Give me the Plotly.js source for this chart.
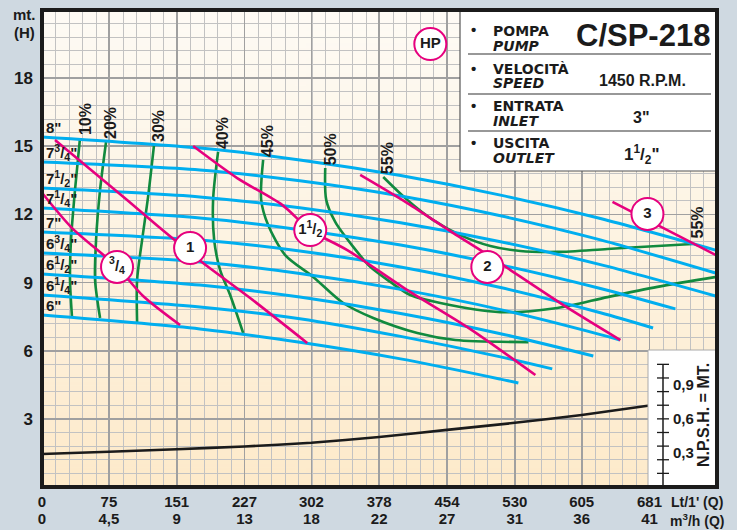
<!DOCTYPE html>
<html><head><meta charset="utf-8">
<script src="https://cdn.plot.ly/plotly-3.0.1.min.js"></script>
<style>html,body{margin:0;padding:0;background:#cfd9e1;}#chart{width:737px;height:530px;}</style>
</head><body><div id="chart"></div>
<script>
// ---------- axis tick values ----------
const ltTicks = [0, 75, 151, 227, 302, 378, 454, 530, 605, 681];
const m3Ticks = ['0', '4,5', '9', '13', '18', '22', '27', '31', '36', '41'];
const hTicks = [3, 6, 9, 12, 15, 18];

// ---------- impeller diameter head curves (Q in Lt/1', H in m) ----------
const diamLabels = ['8"', '7<sup>3</sup>/<sub>4</sub>"', '7<sup>1</sup>/<sub>2</sub>"', '7<sup>1</sup>/<sub>4</sub>"', '7"',
  '6<sup>3</sup>/<sub>4</sub>"', '6<sup>1</sup>/<sub>2</sub>"', '6<sup>1</sup>/<sub>4</sub>"', '6"'];
const q8 = [0, 177, 289, 402, 514, 626, 755];
const h8 = [15.41, 14.92, 14.40, 13.71, 12.85, 11.82, 10.43];
const q7_75 = [0, 177, 289, 402, 514, 626, 755];
const h7_75 = [14.31, 13.96, 13.48, 12.81, 11.94, 10.88, 9.42];
const q7_5 = [0, 177, 289, 402, 514, 626, 755];
const h7_5 = [13.16, 12.77, 12.29, 11.63, 10.80, 9.79, 8.41];
const q7_25 = [0, 177, 289, 402, 514, 626, 710];
const h7_25 = [12.28, 11.84, 11.33, 10.65, 9.78, 8.74, 7.84];
const q7 = [0, 177, 289, 402, 514, 626, 685];
const h7 = [11.23, 10.87, 10.39, 9.69, 8.78, 7.67, 7.00];
const q6_75 = [0, 177, 289, 402, 514, 626, 648];
const h6_75 = [10.30, 9.91, 9.40, 8.70, 7.81, 6.71, 6.47];
const q6_5 = [0, 177, 289, 402, 514, 618];
const h6_5 = [9.38, 8.89, 8.36, 7.64, 6.75, 5.77];
const q6_25 = [0, 177, 289, 402, 514, 572];
const h6_25 = [8.45, 7.92, 7.41, 6.63, 5.73, 5.20];
const q6 = [0, 177, 289, 402, 514, 534];
const h6 = [7.57, 6.96, 6.37, 5.64, 4.75, 4.58];

// ---------- efficiency curves ----------
const effLabels = ['10%', '20%', '30%', '40%', '45%', '50%', '55%'];
const e10q = [42.6, 37.0, 32.5, 31.4, 33.7];
const e10h = [15.36, 13.08, 10.87, 9.11, 7.44];
const e20q = [71.8, 65.1, 60.6, 59.5, 65.1];
const e20h = [15.19, 13.08, 10.87, 9.11, 7.44];
const e30q = [125.6, 118.9, 112.2, 106.6, 106.6];
const e30h = [15.06, 12.77, 10.87, 9.11, 7.26];
const e40q = [197.4, 191.8, 193.0, 199.7, 210.9, 225.5];
const e40h = [14.75, 12.64, 10.87, 9.55, 8.45, 6.78];
const e45q = [247.9, 245.7, 253.5, 272.6, 304.0, 337.7, 371.3, 420.7, 463.3, 545.2];
const e45h = [14.40, 12.64, 11.53, 10.21, 9.25, 8.10, 7.44, 6.78, 6.47, 6.38];
const e50q = [317.5, 318.6, 328.7, 348.9, 368.0, 390.4, 412.8, 446.5, 513.8, 577.7, 633.8, 689.9, 756];
const e50h = [14.04, 12.64, 11.67, 10.57, 9.69, 9.03, 8.45, 8.10, 7.70, 7.88, 8.36, 8.81, 9.25];
const e55q = [382.5, 409.5, 438.6, 468.9, 502.6, 536.2, 577.7, 633.8, 689.9, 729.2];
const e55h = [13.65, 12.64, 11.75, 11.09, 10.61, 10.39, 10.35, 10.48, 10.61, 10.70];

// ---------- power (HP) lines ----------
const hpLabels = ['<sup>3</sup>/<sub>4</sub>', '1', '1<sup>1</sup>/<sub>2</sub>', '2', '3', 'HP'];
const hpLabelQ = [84.1, 166.0, 300.7, 499.2, 678.7, 435.3];
const hpLabelH = [9.69, 10.52, 11.31, 9.69, 12.02, 19.50];
const p075q = [1.1, 33.7, 84.1, 113.3, 154.8];
const p075h = [12.90, 11.40, 9.69, 8.41, 7.13];
const p1q = [14.6, 95.4, 132.4, 180.6, 233.3, 297.3];
const p1h = [15.28, 12.64, 11.40, 9.86, 8.32, 6.34];
const p15q = [169.4, 218.8, 269.2, 300.7, 342.2, 409.5, 476.8, 553.1];
const p15h = [15.01, 13.60, 12.42, 11.31, 10.43, 8.67, 7.04, 4.93];
const p2q = [356.7, 409.5, 461.1, 491.4, 521.7, 584.5, 648.4];
const p2h = [13.74, 12.50, 11.18, 10.43, 9.64, 8.01, 6.47];
const p3q = [639.5, 756];
const p3h = [12.55, 10.20];

// ---------- NPSH (m) ----------
const npshQ = [0, 75, 151, 227, 302, 378, 454, 530, 605, 681];
const npshM = [0.291, 0.311, 0.333, 0.357, 0.390, 0.441, 0.503, 0.565, 0.634, 0.717];
const npshTickVals = [0.3, 0.6, 0.9];
const npshTickText = ['0,3', '0,6', '0,9'];
const npshMinor = [0.12, 0.24, 0.36, 0.48, 0.60, 0.72, 0.84, 0.96, 1.08];

// ---------- info box text ----------
const infoLabels = ['POMPA', 'VELOCITÀ', 'ENTRATA', 'USCITA'];
const infoLabelsEn = ['PUMP', 'SPEED', 'INLET', 'OUTLET'];
const infoValues = ['C/SP-218', '1450 R.P.M.', '3"', '1<sup>1</sup>/<sub>2</sub>"'];

// ================= drawing =================
const BLUE = '#00aeef', GREEN = '#118a3e', PINK = '#e6007e', INK = '#1b1b1b';
const SANS = '"Liberation Sans", Arial, sans-serif';
const WIDE = '"DejaVu Sans", sans-serif';
const W = 737, H = 530, ML = 42, MR = 20, MT = 10, MB = 43;
const PW = W - ML - MR, PH = H - MT - MB;
const XMAX = 681 / 9 * 10, YMAX = 21;
const NPSH_SCALE = 0.2;
const px = x => (x - ML) / PW;
const py = y => (H - MB - y) / PH;
const bold = (size, extra) => Object.assign({family: SANS, size: size, color: INK, weight: 700}, extra || {});

const traces = [];
const line = (q, h, color, width) => ({
  type: 'scatter', mode: 'lines', x: q, y: h, hoverinfo: 'skip', showlegend: false,
  line: {color: color, width: width, shape: 'spline', smoothing: 0.8}
});
const effCurves = [[e10q, e10h], [e20q, e20h], [e30q, e30h], [e40q, e40h], [e45q, e45h], [e50q, e50h], [e55q, e55h]];
effCurves.forEach(c => traces.push(line(c[0], c[1], GREEN, 2.6)));
const blue = [[q8, h8], [q7_75, h7_75], [q7_5, h7_5], [q7_25, h7_25], [q7, h7], [q6_75, h6_75], [q6_5, h6_5], [q6_25, h6_25], [q6, h6]];
blue.forEach(c => traces.push(line(c[0], c[1], BLUE, 3)));
[[p075q, p075h], [p1q, p1h], [p15q, p15h], [p2q, p2h], [p3q, p3h]]
  .forEach(c => traces.push(line(c[0], c[1], PINK, 2.6)));
traces.push({
  type: 'scatter', mode: 'markers+text', x: hpLabelQ, y: hpLabelH, text: hpLabels,
  textposition: 'middle center', hoverinfo: 'skip', showlegend: false,
  marker: {size: 32, color: '#ffffff', line: {color: PINK, width: 2}},
  textfont: bold(15)
});
traces.push({
  type: 'scatter', mode: 'lines', x: npshQ, y: npshM, xaxis: 'x2', yaxis: 'y2',
  hoverinfo: 'skip', showlegend: false,
  line: {color: INK, width: 2.6, shape: 'spline', smoothing: 0.6}
});

const annotations = [];
const ann = o => annotations.push(Object.assign({showarrow: false, xanchor: 'center', yanchor: 'middle'}, o));
// diameter labels
blue.forEach((c, i) => ann({
  xref: 'x', yref: 'y', x: 0, y: c[1][0] + 0.42, xanchor: 'left', xshift: 2,
  text: diamLabels[i], font: bold(15)
}));
// efficiency labels
effCurves.forEach((c, i) => ann({
  xref: 'x', yref: 'y', x: c[0][0], y: c[1][0], yanchor: 'bottom', xshift: 5, yshift: 1,
  text: effLabels[i], textangle: -90, font: bold(16)
}));
ann({
  xref: 'x', yref: 'y', x: e55q[e55q.length - 1], y: e55h[e55h.length - 1], yanchor: 'bottom',
  xshift: 5, yshift: 3, text: effLabels[6], textangle: -90, font: bold(16)
});
// axis captions
ann({xref: 'paper', yref: 'paper', x: px(24), y: py(15), text: 'mt.', font: bold(15)});
ann({xref: 'paper', yref: 'paper', x: px(24), y: py(32), text: '(H)', font: bold(15)});
ann({xref: 'paper', yref: 'paper', x: px(697), y: py(502), text: "Lt/1' (Q)", font: bold(14)});
ann({xref: 'paper', yref: 'paper', x: px(697), y: py(520), text: 'm<sup>3</sup>/h (Q)', font: bold(14)});
// NPSH scale
npshTickVals.forEach((v, i) => ann({
  xref: 'paper', yref: 'y2', x: px(671), y: v, xanchor: 'left', text: npshTickText[i], font: bold(15)
}));
ann({xref: 'paper', yref: 'paper', x: px(703), y: py(415), text: 'N.P.S.H. = MT.', textangle: -90, font: bold(16)});
// info box
const rowsY = [31, 69, 106, 143];
rowsY.forEach((y, i) => {
  ann({xref: 'paper', yref: 'paper', x: px(473), y: py(y - 1), text: '•', font: bold(15)});
  ann({xref: 'paper', yref: 'paper', x: px(491), y: py(y), xanchor: 'left', text: infoLabels[i],
    font: {family: WIDE, size: 14, color: INK, weight: 700}});
  ann({xref: 'paper', yref: 'paper', x: px(491), y: py(y + 14.5), xanchor: 'left', text: infoLabelsEn[i],
    font: {family: WIDE, size: 14, color: INK, weight: 700, style: 'italic'}});
});
ann({xref: 'paper', yref: 'paper', x: px(712), y: py(36), xanchor: 'right', text: infoValues[0], font: bold(31)});
ann({xref: 'paper', yref: 'paper', x: px(642), y: py(80), text: infoValues[1], font: bold(16)});
ann({xref: 'paper', yref: 'paper', x: px(641), y: py(118), text: infoValues[2], font: bold(16)});
ann({xref: 'paper', yref: 'paper', x: px(642), y: py(155), text: infoValues[3], font: bold(17)});

const shapes = [];
shapes.push({type: 'rect', xref: 'paper', yref: 'paper', x0: px(460), x1: 1, y0: py(171), y1: 1,
  fillcolor: '#ffffff', line: {color: '#555', width: 1.2}, layer: 'above'});
[54, 94, 131].forEach(y => shapes.push({type: 'line', xref: 'paper', yref: 'paper', x0: px(468), x1: px(711),
  y0: py(y), y1: py(y), line: {color: '#333', width: 1.2}, layer: 'above'}));
shapes.push({type: 'rect', xref: 'paper', yref: 'paper', x0: px(648), x1: 1, y0: 0, y1: py(350),
  fillcolor: '#ffffff', line: {color: '#aaa', width: 1}, layer: 'above'});
shapes.push({type: 'line', xref: 'paper', yref: 'y2', x0: px(663), x1: px(663), y0: 0, y1: npshMinor[npshMinor.length - 1],
  line: {color: INK, width: 1.5}, layer: 'above'});
npshMinor.forEach(v => shapes.push({type: 'line', xref: 'paper', yref: 'y2', x0: px(657), x1: px(669), y0: v, y1: v,
  line: {color: INK, width: 1.3}, layer: 'above'}));
shapes.push({type: 'rect', xref: 'paper', yref: 'paper', x0: 0, x1: 1, y0: 0, y1: 1,
  line: {color: INK, width: 4}, layer: 'above'});

function gradientURL() {
  const c = document.createElement('canvas'); c.width = 4; c.height = 256;
  const g = c.getContext('2d'); const gr = g.createLinearGradient(0, 0, 0, 256);
  gr.addColorStop(0, '#fefbf5'); gr.addColorStop(0.5, '#fdf3e1'); gr.addColorStop(1, '#fdeaca');
  g.fillStyle = gr; g.fillRect(0, 0, 4, 256); return c.toDataURL();
}

const gridMajor = '#a0a0a0', gridMinor = '#c2c2c2';
const layout = {
  width: W, height: H, margin: {l: ML, r: MR, t: MT, b: MB, pad: 0},
  paper_bgcolor: '#cfd9e1', plot_bgcolor: 'rgba(0,0,0,0)', showlegend: false,
  images: [{source: gradientURL(), xref: 'paper', yref: 'paper', x: 0, y: 1, sizex: 1, sizey: 1,
    sizing: 'stretch', xanchor: 'left', yanchor: 'top', layer: 'below'}],
  xaxis: {range: [0, XMAX], tickmode: 'array', tickvals: ltTicks.concat([XMAX]), ticktext: ltTicks.map(String).concat(['']),
    showgrid: true, gridcolor: gridMajor, gridwidth: 1.6, zeroline: false, showline: false, ticks: '',
    ticklabelstandoff: 4, tickfont: bold(15),
    minor: {dtick: XMAX / 50, tick0: 0, showgrid: true, gridcolor: gridMinor, gridwidth: 1, ticks: ''}},
  xaxis2: {overlaying: 'x', range: [0, XMAX], tickmode: 'array', tickvals: ltTicks, ticktext: m3Ticks, side: 'bottom',
    anchor: 'y', showgrid: false, zeroline: false, showline: false, ticks: '', ticklabelstandoff: 21,
    tickfont: bold(15)},
  yaxis: {range: [0, YMAX], tickmode: 'array', tickvals: [0].concat(hTicks, [YMAX]), ticktext: [''].concat(hTicks.map(String), ['']),
    showgrid: true, gridcolor: gridMajor, gridwidth: 1.6, zeroline: false, showline: false, ticks: '',
    ticklabelstandoff: 8, tickfont: bold(17),
    minor: {dtick: 0.6, tick0: 0, showgrid: true, gridcolor: gridMinor, gridwidth: 1, ticks: ''}},
  yaxis2: {overlaying: 'y', range: [0, YMAX * NPSH_SCALE], visible: false},
  annotations: annotations, shapes: shapes
};
Plotly.newPlot('chart', traces, layout, {staticPlot: true, displayModeBar: false});
</script></body></html>
